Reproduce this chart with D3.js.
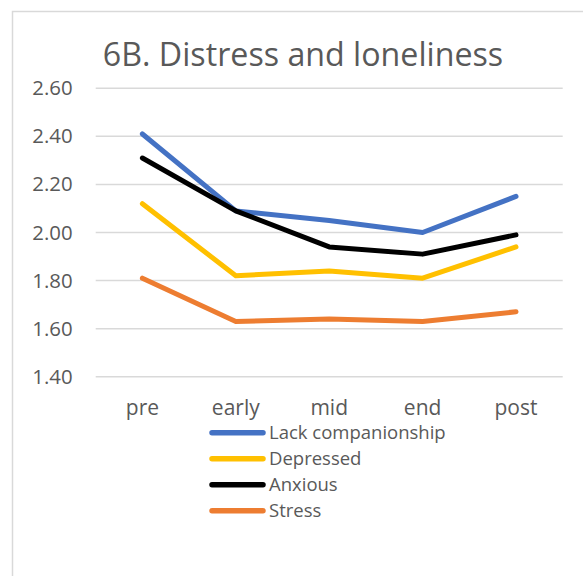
<!DOCTYPE html>
<html>
<head>
<meta charset="utf-8">
<script src="https://cdn.jsdelivr.net/npm/d3@7"></script>
<style>
  html, body { margin: 0; padding: 0; background: #fff; }
  svg { display: block; }
  text { font-family: "Open Sans", Lato, sans-serif; fill: #595959; }
</style>
</head>
<body>
<svg id="chart" width="583" height="576"></svg>
<script>
// Time points and the four measures
const phases = ["pre", "early", "mid", "end", "post"];
const lackCompanionship = [2.41, 2.09, 2.05, 2.00, 2.15];
const depressed = [2.12, 1.82, 1.84, 1.81, 1.94];
const anxious = [2.31, 2.09, 1.94, 1.91, 1.99];
const stress = [1.81, 1.63, 1.64, 1.63, 1.67];
const yTicks = [1.4, 1.6, 1.8, 2.0, 2.2, 2.4, 2.6];
const titleText = "6B. Distress and loneliness";

const series = [
  { name: "Lack companionship", values: lackCompanionship, color: "#4472C4" },
  { name: "Depressed", values: depressed, color: "#FFC000" },
  { name: "Anxious", values: anxious, color: "#000000" },
  { name: "Stress", values: stress, color: "#ED7D31" }
];

const FONT = "'Open Sans', Lato, sans-serif";
const svg = d3.select("#chart");

// chart frame (runs past the right and bottom edges)
svg.append("rect")
  .attr("x", 12.5).attr("y", 11.5)
  .attr("width", 620).attr("height", 620)
  .attr("fill", "#fff").attr("stroke", "#d9d9d9").attr("stroke-width", 1.5);

const plot = { left: 95.7, right: 562.7, top: 88.3, bottom: 376.7 };

const x = d3.scaleBand().domain(phases).range([plot.left, plot.right]);
const y = d3.scaleLinear().domain([1.4, 2.6]).range([plot.bottom, plot.top]);

// horizontal gridlines
svg.append("g")
  .selectAll("line")
  .data(yTicks)
  .join("line")
  .attr("x1", plot.left).attr("x2", plot.right)
  .attr("y1", d => y(d)).attr("y2", d => y(d))
  .attr("stroke", "#d9d9d9").attr("stroke-width", 1.5);

// y axis labels
const yAxis = svg.append("g")
  .attr("transform", `translate(${plot.left - 23},0)`)
  .call(d3.axisLeft(y).tickValues(yTicks).tickFormat(d3.format(".2f")).tickSize(0).tickPadding(0));
yAxis.select(".domain").remove();
yAxis.selectAll("text")
  .attr("font-family", FONT)
  .attr("font-size", 20.4).attr("fill", "#595959");

// x axis labels
const xAxis = svg.append("g")
  .attr("transform", `translate(0,${plot.bottom + 23})`)
  .call(d3.axisBottom(x).tickSize(0).tickPadding(0));
xAxis.select(".domain").remove();
xAxis.selectAll("text")
  .attr("font-family", FONT)
  .attr("font-size", 21).attr("fill", "#595959");

// series lines
const line = d3.line()
  .x((d, i) => x(phases[i]) + x.bandwidth() / 2)
  .y(d => y(d));

svg.append("g")
  .selectAll("path")
  .data(series)
  .join("path")
  .attr("d", d => line(d.values))
  .attr("fill", "none")
  .attr("stroke", d => d.color)
  .attr("stroke-width", 5)
  .attr("stroke-linejoin", "round")
  .attr("stroke-linecap", "round");

// title
svg.append("text")
  .attr("x", 303).attr("y", 66)
  .attr("text-anchor", "middle")
  .attr("font-size", 32.2)
  .text(titleText);

// legend
const legend = svg.append("g")
  .selectAll("g")
  .data(series)
  .join("g")
  .attr("transform", (d, i) => `translate(0,${432.7 + i * 26})`);
legend.append("line")
  .attr("x1", 212).attr("x2", 263)
  .attr("stroke", d => d.color)
  .attr("stroke-width", 5.5)
  .attr("stroke-linecap", "round");
legend.append("text")
  .attr("x", 269).attr("dy", "0.36em")
  .attr("font-size", 18.5)
  .text(d => d.name);
</script>
</body>
</html>
